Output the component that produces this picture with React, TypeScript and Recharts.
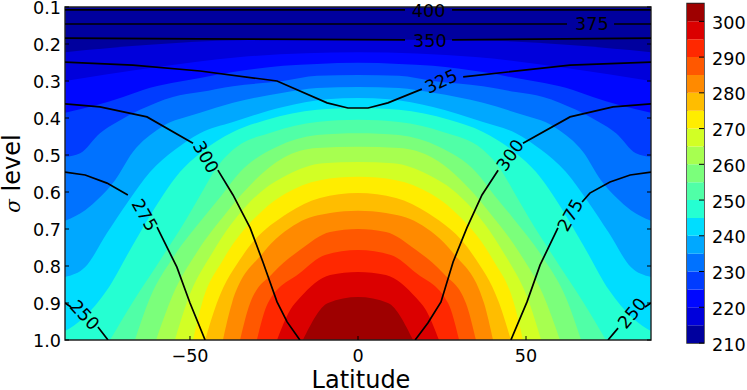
import React from 'react';
import {
  ComposedChart, BarChart, Area, Line, Bar, XAxis, YAxis, Label, ReferenceArea, ReferenceDot,
} from 'recharts';

type Pt = [number, number | null];

const FONT = '"DejaVu Sans", sans-serif';
const latTicks = [-50, 0, 50];
const sigmaTicks = [0.1, 0.2, 0.3, 0.4, 0.5, 0.6, 0.7, 0.8, 0.9, 1.0];
const barTicks = [210, 220, 230, 240, 250, 260, 270, 280, 290, 300];
const bandColors = [
  '#00009e', '#0000db', '#0007ff', '#003cff', '#0072ff', '#00a8ff', '#00ddff', '#25ffd2', '#50ffa7', '#7bff7b',
  '#a7ff50', '#d2ff25', '#ffed00', '#ffbd00', '#ff8a00', '#ff5800', '#ff2800', '#db0000', '#9e0000',
];

// Temperature isotherms: [latitude, sigma]; each one bounds the warmer region below it.
const t210: Pt[] = [[-87.2, 0.1], [87.2, 0.1]];
const t215: Pt[] = [[-87.2, 0.222], [-62, 0.202], [-35, 0.19], [0, 0.188], [35, 0.19], [62, 0.202], [87.2, 0.222]];
const t220: Pt[] = [[-87.2, 0.3], [-62, 0.265], [-35, 0.235], [0, 0.222], [35, 0.235], [62, 0.265], [87.2, 0.3]];
const t225: Pt[] = [[-87.2, 0.386], [-77.7, 0.365], [-69.9, 0.343], [-64, 0.324], [-47, 0.292], [-37.2, 0.276], [-22.3, 0.259], [-12.2, 0.254], [0, 0.251], [12.2, 0.254], [22.3, 0.259], [37.2, 0.276], [47, 0.292], [64, 0.324], [69.9, 0.343], [77.7, 0.365], [87.2, 0.386]];
const t230: Pt[] = [[-87.2, 0.505], [-82.7, 0.495], [-76.8, 0.441], [-71.7, 0.411], [-64.9, 0.378], [-55.1, 0.343], [-47, 0.33], [-37.2, 0.314], [-22.3, 0.3], [-12.2, 0.286], [0, 0.284], [12.2, 0.286], [22.3, 0.3], [37.2, 0.314], [47, 0.33], [55.1, 0.343], [64.9, 0.378], [71.7, 0.411], [76.8, 0.441], [82.7, 0.495], [87.2, 0.505]];
const t235: Pt[] = [[-87.2, 0.678], [-81.2, 0.649], [-76.8, 0.614], [-72.3, 0.568], [-67, 0.492], [-58.9, 0.427], [-47, 0.386], [-37.2, 0.359], [-22.3, 0.332], [-12.2, 0.319], [0, 0.316], [12.2, 0.319], [22.3, 0.332], [37.2, 0.359], [47, 0.386], [58.9, 0.427], [67, 0.492], [72.3, 0.568], [76.8, 0.614], [81.2, 0.649], [87.2, 0.678]];
const t240: Pt[] = [[-87.2, 0.83], [-81.2, 0.803], [-74.7, 0.711], [-68.5, 0.627], [-61.9, 0.546], [-54.5, 0.486], [-47, 0.441], [-37.2, 0.411], [-22.3, 0.37], [-9.2, 0.349], [0, 0.346], [9.2, 0.349], [22.3, 0.37], [37.2, 0.411], [47, 0.441], [54.5, 0.486], [61.9, 0.546], [68.5, 0.627], [74.7, 0.711], [81.2, 0.803], [87.2, 0.83]];
const t245: Pt[] = [[-87.2, 0.976], [-81.8, 0.941], [-74.7, 0.865], [-67, 0.743], [-58, 0.608], [-53, 0.546], [-47, 0.495], [-37.2, 0.438], [-27.1, 0.405], [-12.2, 0.378], [0, 0.373], [12.2, 0.378], [27.1, 0.405], [37.2, 0.438], [47, 0.495], [53, 0.546], [58, 0.608], [67, 0.743], [74.7, 0.865], [81.8, 0.941], [87.2, 0.976]];
const t250: Pt[] = [[-73.8, 1], [-67, 0.897], [-59.8, 0.797], [-50.9, 0.67], [-46.1, 0.595], [-42.6, 0.541], [-37.2, 0.486], [-25.3, 0.438], [-12.2, 0.411], [0, 0.405], [12.2, 0.411], [25.3, 0.438], [37.2, 0.486], [42.6, 0.541], [46.1, 0.595], [50.9, 0.67], [59.8, 0.797], [67, 0.897], [73.8, 1]];
const t255: Pt[] = [[-66.4, 1], [-61.9, 0.886], [-55.1, 0.778], [-46.1, 0.67], [-40.5, 0.608], [-35.1, 0.546], [-24.1, 0.478], [-12.2, 0.446], [0, 0.441], [12.2, 0.446], [24.1, 0.478], [35.1, 0.546], [40.5, 0.608], [46.1, 0.67], [55.1, 0.778], [61.9, 0.886], [66.4, 1]];
const t260: Pt[] = [[-60.1, 1], [-55.1, 0.878], [-47.9, 0.762], [-39, 0.654], [-35.1, 0.611], [-22.3, 0.508], [-12.2, 0.481], [0, 0.478], [12.2, 0.481], [22.3, 0.508], [35.1, 0.611], [39, 0.654], [47.9, 0.762], [55.1, 0.878], [60.1, 1]];
const t265: Pt[] = [[-54.5, 1], [-50.9, 0.897], [-43.2, 0.762], [-33, 0.635], [-28.3, 0.595], [-21.1, 0.554], [-10.4, 0.522], [0, 0.519], [10.4, 0.522], [21.1, 0.554], [28.3, 0.595], [33, 0.635], [43.2, 0.762], [50.9, 0.897], [54.5, 1]];
const t270: Pt[] = [[-49.1, 1], [-46.4, 0.9], [-40.2, 0.784], [-28.3, 0.649], [-21.7, 0.605], [-11.3, 0.568], [0, 0.559], [11.3, 0.568], [21.7, 0.605], [28.3, 0.649], [40.2, 0.784], [46.4, 0.9], [49.1, 1]];
const t275: Pt[] = [[-45.5, 1], [-42, 0.9], [-34.2, 0.77], [-20.8, 0.657], [-11.3, 0.616], [0, 0.603], [11.3, 0.616], [20.8, 0.657], [34.2, 0.77], [42, 0.9], [45.5, 1]];
const t280: Pt[] = [[-40.2, 1], [-37.5, 0.9], [-28.3, 0.765], [-17.9, 0.684], [-8.3, 0.657], [0, 0.651], [8.3, 0.657], [17.9, 0.684], [28.3, 0.765], [37.5, 0.9], [40.2, 1]];
const t285: Pt[] = [[-35.1, 1], [-32.1, 0.9], [-25.3, 0.819], [-17.3, 0.757], [-8.3, 0.708], [0, 0.7], [8.3, 0.708], [17.3, 0.757], [25.3, 0.819], [32.1, 0.9], [35.1, 1]];
const t290: Pt[] = [[-30.1, 1], [-26.8, 0.9], [-17.3, 0.819], [-9.8, 0.77], [0, 0.757], [9.8, 0.77], [17.3, 0.819], [26.8, 0.9], [30.1, 1]];
const t295: Pt[] = [[-24.1, 1], [-20.2, 0.919], [-17.3, 0.886], [-8.3, 0.824], [0, 0.816], [8.3, 0.824], [17.3, 0.886], [20.2, 0.919], [24.1, 1]];
const t300: Pt[] = [[-16.4, 1], [-8.9, 0.9], [0, 0.884], [8.9, 0.9], [16.4, 1]];
const isotherms = [t210, t215, t220, t225, t230, t235, t240, t245, t250, t255, t260, t265, t270, t275, t280, t285, t290, t295, t300];

// Potential temperature contours; a null sigma is the gap left for an inline label.
const th400: Pt[] = [[-87.2, 0.108], [14, 0.108], [14, null], [28, 0.108], [87.2, 0.108]];
const th375: Pt[] = [[-87.2, 0.146], [62.2, 0.146], [62.2, null], [76.2, 0.146], [87.2, 0.146]];
const th350: Pt[] = [[-87.2, 0.184], [-47, 0.186], [14, 0.189], [14, null], [28, 0.189], [87.2, 0.184]];
const th325: Pt[] = [[-87.2, 0.249], [-67, 0.257], [-47, 0.273], [-24.1, 0.3], [-9.2, 0.359], [-3, 0.373], [3, 0.373], [8.9, 0.359], [19, 0.322], [19, null], [31.3, 0.289], [63.1, 0.257], [87.2, 0.249]];
const th300L: Pt[] = [[-87.2, 0.362], [-76.8, 0.37], [-62.8, 0.397], [-49.1, 0.468], [-49.1, null], [-41.7, 0.541], [-37.2, 0.608], [-32.1, 0.697], [-28.3, 0.789], [-24.1, 0.897], [-21.1, 0.951], [-17.3, 1]];
const th300R: Pt[] = [[17, 1], [20.8, 0.954], [24.7, 0.897], [28.3, 0.789], [32.4, 0.697], [36.9, 0.608], [41.7, 0.541], [41.7, null], [49.1, 0.468], [63.1, 0.397], [75.9, 0.37], [87.2, 0.362]];
const th275L: Pt[] = [[-87.2, 0.546], [-81.2, 0.554], [-74.7, 0.576], [-68.5, 0.608], [-68.5, null], [-59.8, 0.695], [-53.9, 0.803], [-50, 0.9], [-45.5, 1]];
const th275R: Pt[] = [[45.5, 1], [50.3, 0.897], [54.2, 0.797], [59.5, 0.697], [59.5, null], [66.7, 0.627], [69, 0.603], [75, 0.573], [81, 0.554], [87.2, 0.546]];
const th250L: Pt[] = [[-87.2, 0.9], [-85.4, 0.911], [-85.4, null], [-77.4, 0.965], [-74.4, 1]];
const th250R: Pt[] = [[74.4, 1], [77.4, 0.968], [77.4, null], [85.4, 0.911], [87.2, 0.9]];
const thetaLines = [th400, th375, th350, th325, th300L, th300R, th275L, th275R, th250L, th250R];

const labelLats = [21, 69.6, 21.4, 24.7, -45.2, 45.2, -63.4, 63.1, -81.3, 81.5];
const labelSigmas = [0.111, 0.146, 0.192, 0.3, 0.505, 0.5, 0.662, 0.662, 0.932, 0.927];
const labelTexts = ['400', '375', '350', '325', '300', '300', '275', '275', '250', '250'];
const labelAngles = [0, 0, 0, -25, 60, -55, 60, -60, 47, -50];

const tickFont = 17.6;

const rows = (pts: Pt[]) => pts.map(([lat, s]) => ({ lat, band: s === null ? null : [1, s], sigma: s }));

const Txt = (p: any) => (
  <text fontFamily={FONT} fontSize={tickFont} fill="#000" {...p} />
);

const LeftTick = ({ x, y, payload }: any) => (
  <g>
    <line x1={x} x2={x + 4} y1={y} y2={y} stroke="#000" />
    <Txt x={x - 4} y={y + 7} textAnchor="end">{payload.value.toFixed(1)}</Txt>
  </g>
);
const RightTick = ({ x, y }: any) => <line x1={x - 4} x2={x} y1={y} y2={y} stroke="#000" />;
const BottomTick = ({ x, y, payload }: any) => (
  <g>
    <line x1={x} x2={x} y1={y - 4} y2={y} stroke="#000" />
    <Txt x={x} y={y + 22} textAnchor="middle">{String(payload.value).replace('-', '\u2212')}</Txt>
  </g>
);
const TopTick = ({ x, y }: any) => <line x1={x} x2={x} y1={y} y2={y + 4} stroke="#000" />;
const BarTick = ({ x, y, payload }: any) => (
  <g>
    <line x1={x - 5} x2={x} y1={y} y2={y} stroke="#000" />
    <Txt x={x + 8} y={y + 7.5} textAnchor="start">{payload.value}</Txt>
  </g>
);

const barRow = [Object.fromEntries([['name', 'T'], ['base', 210], ...bandColors.map((_, i) => [`b${i}`, 5])])];

export default function App() {
  return (
    <div style={{ position: 'absolute', left: 0, top: 0, width: 747, height: 390, overflow: 'hidden', background: '#fff' }}>
      <div style={{ position: 'absolute', left: 0, top: 0 }}>
        <ComposedChart width={747} height={390} margin={{ left: 64, top: 6, right: 95, bottom: 49 }}>
          <XAxis xAxisId={0} dataKey="lat" type="number" domain={[-87.2, 87.2]} ticks={latTicks} height={1}
            tickSize={0} tickMargin={0} tickLine={false} axisLine={false} tick={BottomTick} allowDataOverflow interval={0}>
            <Label content={({ viewBox }: any) => (
              <text x={viewBox.x + viewBox.width / 2 + 3} y={388} textAnchor="middle" fontFamily={FONT} fontSize={24}>Latitude</text>
            )} />
          </XAxis>
          <XAxis xAxisId="top" orientation="top" type="number" domain={[-87.2, 87.2]} ticks={latTicks} height={1}
            tickSize={0} tickMargin={0} tickLine={false} axisLine={false} tick={TopTick} allowDataOverflow interval={0} />
          <YAxis yAxisId={0} type="number" reversed domain={[0.1, 1.0]} ticks={sigmaTicks} width={1}
            tickSize={0} tickMargin={0} tickLine={false} axisLine={false} tick={LeftTick} allowDataOverflow interval={0}>
            <Label content={({ viewBox }: any) => (
              <text transform={`translate(20 ${viewBox.y + viewBox.height / 2 - 0}) rotate(-90)`} textAnchor="middle"
                fontFamily={FONT} fontSize={24}>
                <tspan fontStyle="italic" fontFamily='"DejaVu Serif", serif' fontSize={20}>{'\u03c3'}</tspan> level
              </text>
            )} />
          </YAxis>
          <YAxis yAxisId="right" orientation="right" type="number" reversed domain={[0.1, 1.0]} ticks={sigmaTicks} width={1}
            tickSize={0} tickMargin={0} tickLine={false} axisLine={false} tick={RightTick} allowDataOverflow interval={0} />

          {isotherms.map((pts, i) => (
            <Area key={`t${i}`} data={rows(pts)} dataKey="band" type="monotoneX" stroke="none" fill={bandColors[i]} fillOpacity={1}
              dot={false} activeDot={false} isAnimationActive={false} />
          ))}
          {thetaLines.map((pts, i) => (
            <Line key={`th${i}`} data={rows(pts)} dataKey="sigma" type="linear" stroke="#000" strokeWidth={1.7}
              dot={false} activeDot={false} isAnimationActive={false} />
          ))}
          {labelTexts.map((t, i) => (
            <ReferenceDot key={`l${i}`} x={labelLats[i]} y={labelSigmas[i]} r={0} ifOverflow="visible"
              shape={({ cx, cy }: any) => (
                <text transform={`translate(${cx} ${cy}) rotate(${labelAngles[i]})`} textAnchor="middle" dy={6.4}
                  fontFamily={FONT} fontSize={tickFont} fill="#000">{t}</text>
              )} />
          ))}
          <ReferenceArea x1={-87.2} x2={87.2} y1={0.1} y2={1.0} fill="none" stroke="#222" strokeWidth={1.4} ifOverflow="visible" />
        </ComposedChart>
      </div>
      <div style={{ position: 'absolute', left: 640, top: 0 }}>
        <BarChart width={107} height={390} data={barRow} margin={{ left: 47, top: 3.5, right: 42, bottom: 47 }} barCategoryGap={0}>
          <XAxis dataKey="name" hide />
          <YAxis yAxisId={0} orientation="right" type="number" domain={[210, 305]} ticks={barTicks} width={1}
            tickSize={0} tickMargin={0} tickLine={false} axisLine={false} tick={BarTick} allowDataOverflow interval={0} />
          <Bar dataKey="base" stackId="c" fill="none" isAnimationActive={false} />
          {bandColors.map((c, i) => (
            <Bar key={c} dataKey={`b${i}`} stackId="c" fill={c} isAnimationActive={false} />
          ))}
          <ReferenceArea y1={210} y2={305} fill="none" stroke="#222" strokeWidth={1.4} ifOverflow="visible" />
        </BarChart>
      </div>
    </div>
  );
}
